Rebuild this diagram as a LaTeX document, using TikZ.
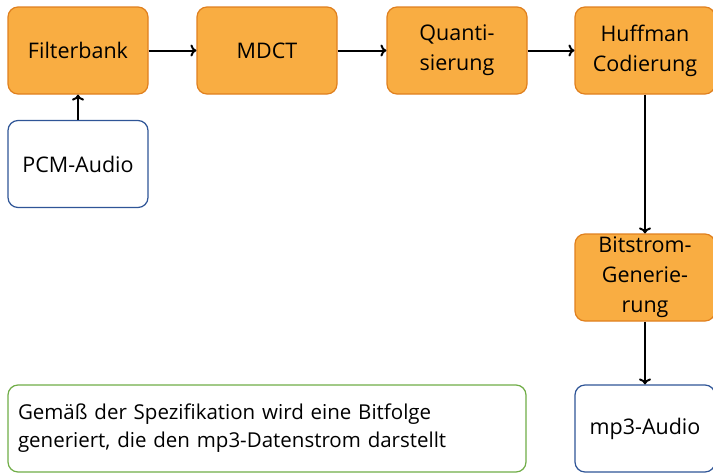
\documentclass[tikz,border=0pt]{standalone}
\usepackage{fontspec}
\setmainfont{Open Sans}
\usetikzlibrary{arrows.meta}
\definecolor{boxfill}{HTML}{F9AD42}
\definecolor{boxline}{HTML}{E0801E}
\definecolor{blueline}{HTML}{2F5597}
\definecolor{greenline}{HTML}{70AD47}
\begin{document}
\begin{tikzpicture}[x=1pt,y=-1pt,
  proc/.style={draw=boxline, fill=boxfill, line width=1.2pt, rounded corners=10pt,
    minimum width=140pt, minimum height=87pt, inner sep=0pt, align=center,
    font=\fontsize{21.5}{30}\selectfont},
  io/.style={draw=blueline, fill=white, line width=1.2pt, rounded corners=10pt,
    minimum width=140pt, minimum height=87pt, inner sep=0pt, align=center,
    font=\fontsize{21.5}{30}\selectfont},
  note/.style={draw=greenline, fill=white, line width=1.2pt, rounded corners=10pt,
    minimum width=518pt, minimum height=87pt, inner sep=10pt, align=left,
    text width=498pt, font=\fontsize{20.5}{28}\selectfont},
  conn/.style={-{To[length=6pt,width=12pt]}, line width=2pt, black}]
\useasboundingbox (0,0) rectangle (713,472);
\node[proc] (fb) at (78,50.5) {Filterbank};
\node[proc] (mdct) at (267,50.5) {MDCT};
\node[proc] (quant) at (457,50.5) {Quanti-\\sierung};
\node[proc] (huff) at (645,50.5) {Huffman\\Codierung};
\node[io] (pcm) at (78,164) {PCM-Audio};
\node[proc] (bits) at (645,277.5) {Bitstrom-\\Generie-\\rung};
\node[io] (mp3) at (645,428.5) {mp3-Audio};
\node[note] (txt) at (267,428.5) {Gemäß der Spezifikation wird eine Bitfolge\\generiert, die den mp3-Datenstrom darstellt};
\draw[conn] (pcm) -- (fb);
\draw[conn] (fb) -- (mdct);
\draw[conn] (mdct) -- (quant);
\draw[conn] (quant) -- (huff);
\draw[conn] (huff) -- (bits);
\draw[conn] (bits) -- (mp3);
\end{tikzpicture}
\end{document}
